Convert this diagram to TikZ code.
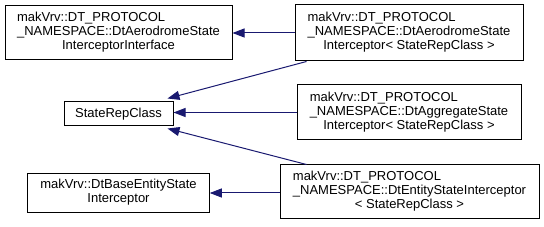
\documentclass[tikz,border=0pt]{standalone}
\usepackage{fontspec}
\setmainfont{Liberation Sans}
\usetikzlibrary{arrows.meta}
\definecolor{edgeblue}{HTML}{191970}
\tikzset{
  box/.style={draw=black, fill=white, line width=1pt, inner sep=0pt,
    font=\fontsize{13}{14}\selectfont, align=center},
  edge/.style={draw=edgeblue, line width=1pt, -{Triangle[length=12pt,width=9pt]}},
}
\newcommand{\tl}[3]{\begin{tabular}{@{}l@{}}#1\\#2\\\multicolumn{1}{@{}c@{}}{#3}\end{tabular}}
\begin{document}
\begin{tikzpicture}[x=1pt,y=-1pt]
\useasboundingbox (0,0) rectangle (544,227);
\node[box, minimum width=227pt, minimum height=54pt] (A) at (118.5,33)
  {\tl{makVrv::DT\_PROTOCOL}{\_NAMESPACE::DtAerodromeState}{InterceptorInterface}};
\node[box, minimum width=228pt, minimum height=56pt] (aer) at (409,33)
  {\tl{makVrv::DT\_PROTOCOL}{\_NAMESPACE::DtAerodromeState}{Interceptor< StateRepClass >}};
\node[box, minimum width=224pt, minimum height=55pt] (agg) at (409,112.5)
  {\tl{makVrv::DT\_PROTOCOL}{\_NAMESPACE::DtAggregateState}{Interceptor< StateRepClass >}};
\node[box, minimum width=259pt, minimum height=54pt] (ent) at (409.5,192)
  {\tl{makVrv::DT\_PROTOCOL}{\_NAMESPACE::DtEntityStateInterceptor}{< StateRepClass >}};
\node[box, minimum width=109pt, minimum height=24pt] (src) at (118.5,114) {StateRepClass};
\node[box, minimum width=181.5pt, minimum height=39.5pt] (base) at (118.5,193)
  {\begin{tabular}{@{}c@{}}makVrv::DtBaseEntityState\\Interceptor\end{tabular}};
\draw[edge] (aer.west) -- (A.east);
\draw[edge] ([xshift=12pt]aer.south west) -- ([xshift=-6pt,yshift=3pt]src.north east);
\draw[edge] (agg.west) -- (src.east |- agg.west);
\draw[edge] ([xshift=27pt]ent.north west) -- ([xshift=-6pt,yshift=-2pt]src.south east);
\draw[edge] (ent.west |- base.east) -- (base.east);
\end{tikzpicture}
\end{document}
